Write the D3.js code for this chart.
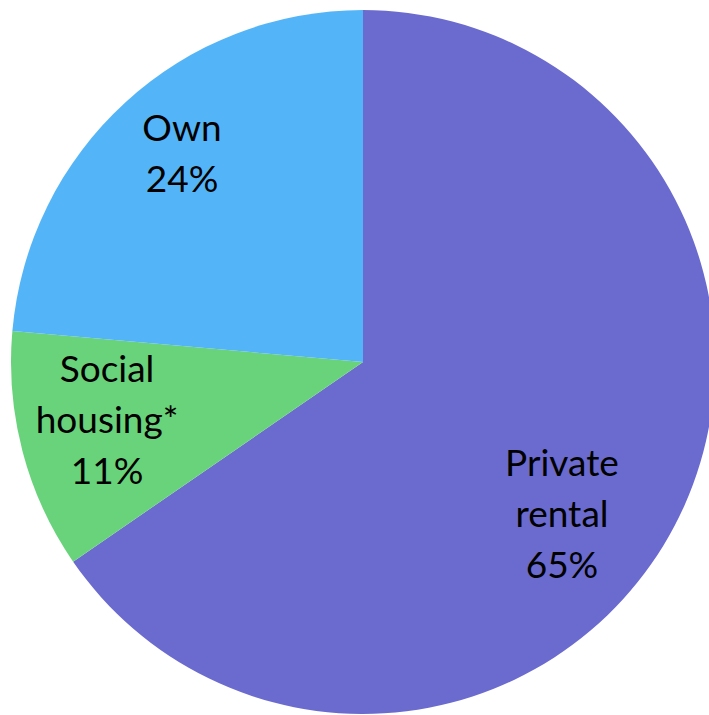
<!DOCTYPE html>
<html><head><meta charset="utf-8">
<script src="https://cdn.jsdelivr.net/npm/d3@7"></script>
<style>html,body{margin:0;padding:0;background:#fff;overflow:hidden}</style>
</head><body>
<svg id="chart" width="709" height="715"></svg>
<script>
const categories = ["Private rental", "Social housing*", "Own"];
const values = [65.4, 11.0, 23.6];
const percentLabels = ["65%", "11%", "24%"];
const labelLines = [["Private", "rental"], ["Social", "housing*"], ["Own"]];
const colors = ["#6B6BCF", "#68D37A", "#53B5F8"];

// layout (label block centres relative to pie centre)
const cx = 363, cy = 362, radius = 352;
const labelPos = [[199, 152], [-256, 58], [-181, -209]];
const lineH = 51;

const svg = d3.select("#chart");
const g = svg.append("g").attr("transform", `translate(${cx},${cy})`);
const pie = d3.pie().sort(null).value(d => d)(values);
const arc = d3.arc().innerRadius(0).outerRadius(radius);

g.selectAll("path").data(pie).enter().append("path")
  .attr("d", arc).attr("fill", (d, i) => colors[i]);

pie.forEach((d, i) => {
  const lines = labelLines[i].concat([percentLabels[i]]);
  const n = lines.length;
  const t = g.append("text")
    .attr("text-anchor", "middle")
    .attr("font-family", "Lato, 'Open Sans', sans-serif")
    .attr("font-size", 37)
    .attr("fill", "#000");
  lines.forEach((ln, j) => {
    t.append("tspan")
      .attr("x", labelPos[i][0])
      .attr("y", labelPos[i][1] + (j - (n - 1) / 2) * lineH + 13)
      .text(ln);
  });
});
</script>
</body></html>
